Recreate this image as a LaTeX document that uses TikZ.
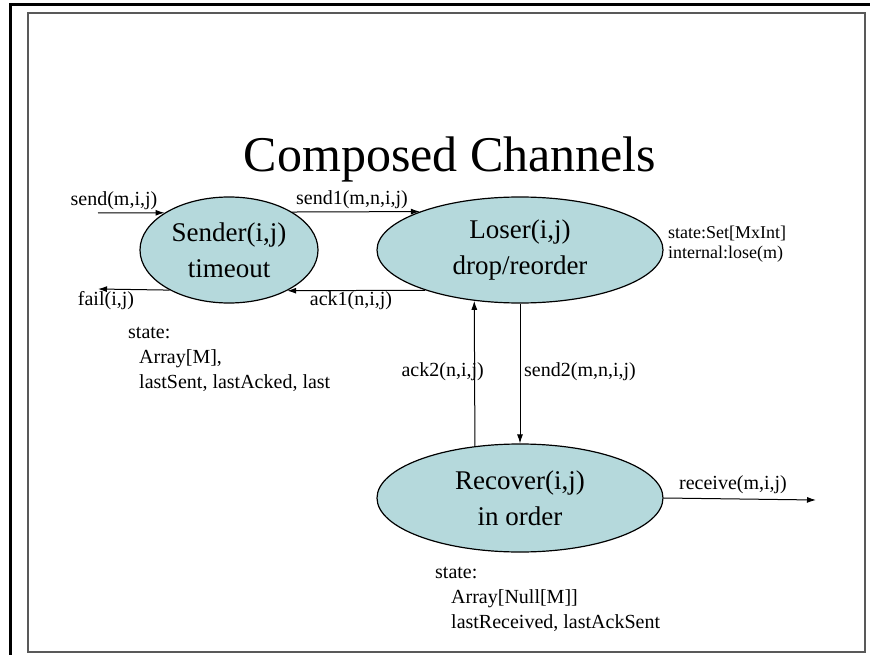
\documentclass[tikz,border=0pt]{standalone}
\usepackage{fontspec}
\setmainfont{Liberation Serif}
\usetikzlibrary{shapes.geometric}
\usetikzlibrary{arrows.meta}
\usepackage{xcolor}

\definecolor{procfill}{HTML}{B5D9DC}

\begin{document}
\begin{tikzpicture}[x=1pt,y=-1pt,
	proc/.style={ellipse,draw,line width=1.2pt,fill=procfill,align=center,inner sep=0pt,
		font=\fontsize{27}{36}\selectfont},
	act/.style={inner sep=0pt,font=\fontsize{20}{24}\selectfont},
	statebox/.style={align=left,anchor=north west,inner sep=0pt,font=\fontsize{20}{25}\selectfont},
	chan/.style={-{Latex[length=9pt,width=6pt]},line width=1pt}]
	\useasboundingbox (0,0) rectangle (870,655);
	% slide frame
	\draw [line width=3pt] (10,655) -- (10,5) -- (870,5);
	\draw [line width=1.6pt,black!65] (28,13) rectangle (865,652);

	\node (title) [anchor=base,font=\fontsize{50}{60}\selectfont] at (450,172) {Composed Channels};

	% the three automata
	\node (sender) [proc,minimum width=178pt,minimum height=106pt] at (229,250) {Sender(i,j)\\timeout};
	\node (loser) [proc,minimum width=286pt,minimum height=106pt] at (520,250) {Loser(i,j)\\drop/reorder};
	\node (recover) [proc,minimum width=286pt,minimum height=108pt] at (520,498) {Recover(i,j)\\in order};

	% channels
	\coordinate (env in) at (98,213);
	\coordinate (env fail) at (98,289);
	\coordinate (env out) at (816,500);
	\draw [chan] (env in) to (sender.150);
	\draw [chan] (sender.31.5) to (loser.159.2);
	\draw [chan] (loser.203) to (sender.325.6);
	\draw [chan] (sender.214) to (env fail);
	\draw [chan] (loser.south) to (recover.north);
	\draw [chan] (recover.131.3) to (loser.228.2);
	\draw [chan] (recover.east) to (env out);

	\node (send) [act] at (114,201) {send(m,i,j)};
	\node (send1) [act] at (352,200) {send1(m,n,i,j)};
	\node (ack1) [act] at (351,301) {ack1(n,i,j)};
	\node (fail) [act] at (106,301) {fail(i,j)};
	\node (ack2) [act,anchor=east] at (484,372) {ack2(n,i,j)};
	\node (send2) [act,anchor=west] at (524,372) {send2(m,n,i,j)};
	\node (receive) [act] at (733,485) {receive(m,i,j)};

	% state of each automaton
	\node (sender state) [statebox] at (128,327) {state:\\\hspace*{11pt}Array[M],\\\hspace*{11pt}lastSent, lastAcked, last};
	\node (loser state) [statebox,font=\fontsize{18}{20}\selectfont] at (668,226) {state:Set[MxInt]\\internal:lose(m)};
	\node (recover state) [statebox] at (435,567) {state:\\\hspace*{16pt}Array[Null[M]]\\\hspace*{16pt}lastReceived, lastAckSent};
\end{tikzpicture}
\end{document}
